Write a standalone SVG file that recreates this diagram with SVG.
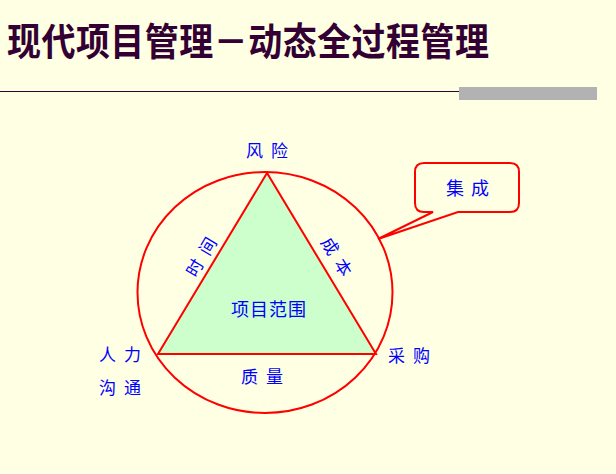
<svg xmlns="http://www.w3.org/2000/svg" width="616" height="474" viewBox="0 0 616 474">
<style>
.lbl{font-family:"Noto Sans CJK SC","Noto Sans",sans-serif;font-size:17px;fill:#0000ff;letter-spacing:8px}
.title{font-family:"Noto Sans CJK SC","Noto Sans",sans-serif;font-size:34px;fill:#330033;font-weight:bold}
.red{fill:none;stroke:#ff0000;stroke-width:2}
</style>
<rect width="616" height="474" fill="#ffffe3"/>
<g id="header">
<text class="title" transform="translate(7,55) scale(1,1.12)" x="0" y="0" textLength="482" lengthAdjust="spacing">现代项目管理－动态全过程管理</text>
<line x1="0" y1="91.5" x2="506" y2="91.5" stroke="#330033" stroke-width="1"/>
<rect x="459" y="87" width="138" height="13" fill="#b2b2b2"/>
</g>
<g id="circle">
<ellipse class="red" cx="265" cy="292.5" rx="127.5" ry="120.5"/>
</g>
<g id="triangle">
<polygon points="267,173 158,354 376,354" fill="#ccffcc" stroke="#ff0000" stroke-width="2"/>
<text class="lbl" x="231" y="316" style="letter-spacing:1px;font-size:18px">项目范围</text>
</g>
<g id="callout">
<path class="red" d="M424,163 H510 Q519,163 519,172 V203 Q519,212 510,212 H458 L378,239 L433,212 H424 Q415,212 415,203 V172 Q415,163 424,163 Z" style="fill:#ffffe3"/>
<text class="lbl" x="446" y="195" style="font-size:18px;letter-spacing:7px">集成</text>
</g>
<g id="labels">
<text class="lbl" x="246" y="157">风险</text>
<text class="lbl" x="99" y="361">人力</text>
<text class="lbl" x="99" y="394">沟通</text>
<text class="lbl" x="241" y="383">质量</text>
<text class="lbl" x="388" y="362">采购</text>
<text class="lbl" transform="translate(201,258) rotate(-59)" x="-20" y="6">时间</text>
<text class="lbl" transform="translate(336,256) rotate(58)" x="-20" y="6">成本</text>
</g>
</svg>
